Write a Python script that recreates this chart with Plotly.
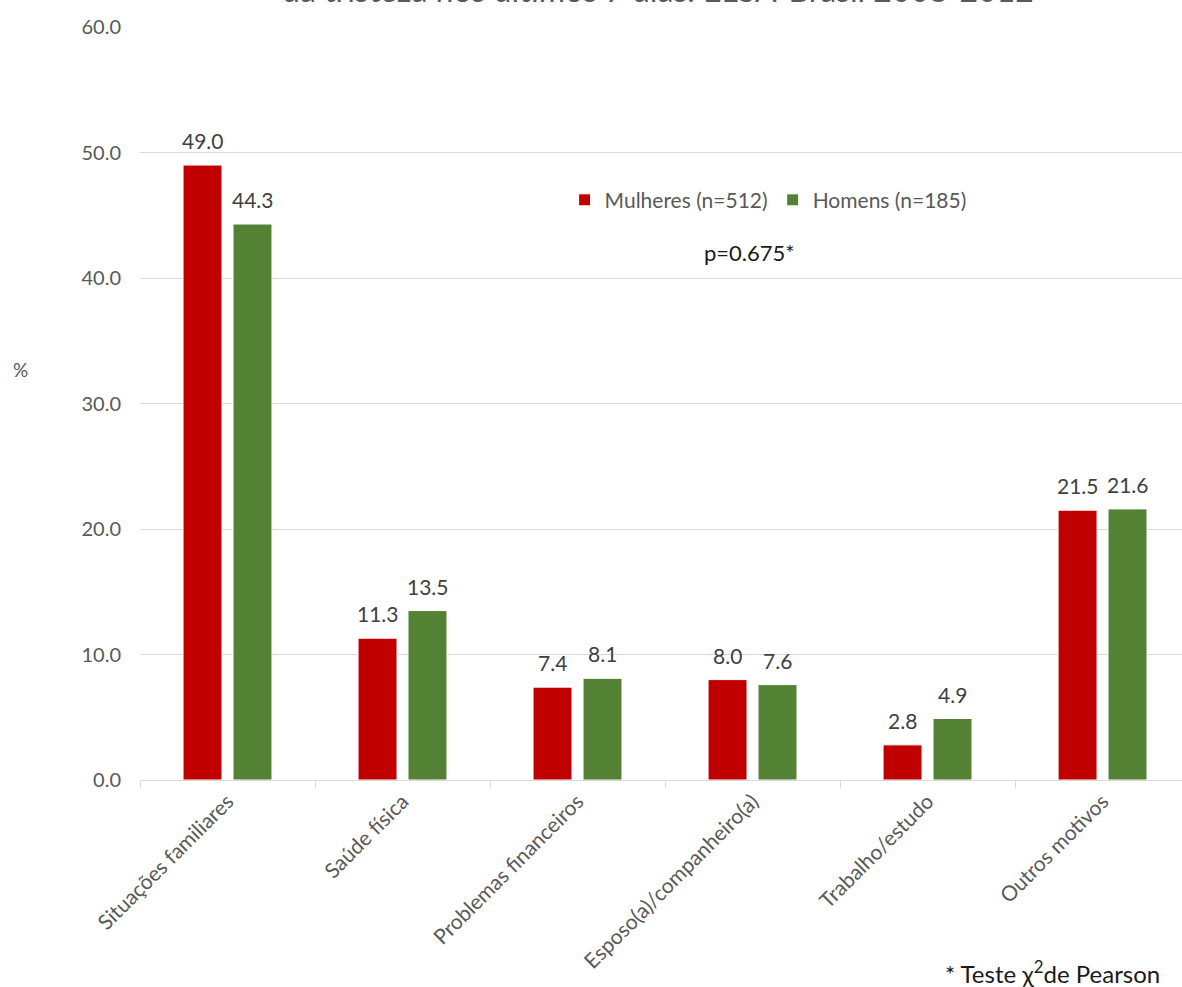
import plotly.graph_objects as go

categories = ["Situações familiares", "Saúde física", "Problemas financeiros",
              "Esposo(a)/companheiro(a)", "Trabalho/estudo", "Outros motivos"]
mulheres = [49.0, 11.3, 7.4, 8.0, 2.8, 21.5]
homens = [44.3, 13.5, 8.1, 7.6, 4.9, 21.6]
series_names = ["Mulheres (n=512)", "Homens (n=185)"]
colors = ["#C00000", "#548235"]
title_text = "da tristeza nos últimos 7 dias. ELSA-Brasil 2008-2012"
y_ticks = [0, 10, 20, 30, 40, 50, 60]

FONT = "Lato"
GRAY = "#595959"
LABEL = "#404040"

fig = go.Figure()
for name, vals, col in zip(series_names, [mulheres, homens], colors):
    fig.add_trace(go.Bar(
        x=categories, y=vals, name=name,
        marker=dict(color=col, line=dict(color="white", width=1)),
    ))

annotations = []
for vals, shift in [(mulheres, -25), (homens, 25)]:
    for c, v in zip(categories, vals):
        annotations.append(dict(
            x=c, y=v, xref="x", yref="y", text=f"{v:.1f}", showarrow=False,
            xshift=shift, yshift=10, yanchor="bottom", xanchor="center",
            font=dict(family=FONT, size=21, color=LABEL)))

annotations += [
    dict(x=0.497, y=1.0215, xref="paper", yref="paper", text=title_text,
         showarrow=False, yanchor="bottom", xanchor="center",
         font=dict(family=FONT, size=32, color=GRAY)),
    dict(x=-0.115, y=0.5445, xref="paper", yref="paper", text="%",
         showarrow=False, xanchor="center", yanchor="middle",
         font=dict(family=FONT, size=19, color=GRAY)),
    dict(x=0.585, y=0.70, xref="paper", yref="paper", text="p=0.675*",
         showarrow=False, xanchor="center", yanchor="middle",
         font=dict(family=FONT, size=22, color="#1a1a1a")),
    dict(x=0.981, y=-0.255, xref="paper", yref="paper",
         text="* Teste χ<sup>2</sup>de Pearson",
         showarrow=False, xanchor="right", yanchor="middle",
         font=dict(family=FONT, size=24, color="#1a1a1a")),
]

fig.update_layout(
    width=1182, height=987,
    margin=dict(l=140, r=0, t=27, b=207),
    paper_bgcolor="white", plot_bgcolor="white",
    barmode="group", bargap=0.429, bargroupgap=0.22,
    font=dict(family=FONT, color=GRAY),
    showlegend=True,
    legend=dict(orientation="h", x=0.4075, y=0.77, xanchor="left", yanchor="middle",
                font=dict(family=FONT, size=21, color=GRAY),
                bgcolor="rgba(0,0,0,0)", itemclick=False),
    annotations=annotations,
    xaxis=dict(range=[-0.5, 5.454], tickson="boundaries", ticks="outside",
               ticklen=7, tickcolor="#D9D9D9", showline=True, linecolor="#D9D9D9",
               linewidth=1, tickangle=-45, showgrid=False,
               tickfont=dict(family=FONT, size=21, color=GRAY)),
    yaxis=dict(range=[0, 60], tickvals=y_ticks, tickformat=".1f",
               showgrid=True, gridcolor="#D9D9D9", gridwidth=1,
               zeroline=False, showline=False, ticks="",
               ticklabelstandoff=18,
               tickfont=dict(family=FONT, size=20, color=GRAY)),
)

fig.write_html("out.html")
